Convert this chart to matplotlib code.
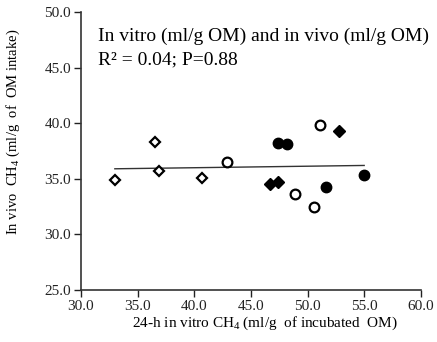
"""
Recreate the in vitro vs in vivo CH4 scatter with its flat regression line.
Output: out.png
"""
import matplotlib

matplotlib.use("Agg")
import matplotlib.pyplot as plt  # noqa: E402

plt.rcParams["font.family"] = ["Liberation Serif", "DejaVu Serif"]
plt.rcParams["mathtext.fontset"] = "custom"
plt.rcParams["mathtext.rm"] = "Liberation Serif"
plt.rcParams["mathtext.it"] = "Liberation Serif:italic"

# groups (x = in vitro, y = in vivo)
open_diamond_x = [33.0, 36.5, 36.9, 40.7]
open_diamond_y = [34.9, 38.3, 35.7, 35.1]
open_circle_x = [42.9, 51.1, 48.9, 50.6]
open_circle_y = [36.5, 39.8, 33.65, 32.5]
filled_circle_x = [47.4, 48.2, 51.6, 55.0]
filled_circle_y = [38.25, 38.15, 34.3, 35.3]
filled_diamond_x = [52.8, 46.7, 47.4]
filled_diamond_y = [39.3, 34.5, 34.7]

# regression line end points
trend_x = [33.0, 55.0]
trend_y = [35.9, 36.2]

x_ticks = [30, 35, 40, 45, 50, 55, 60]
y_ticks = [25, 30, 35, 40, 45, 50]


def main():
    fig = plt.figure(figsize=(4.37, 3.42), dpi=100)
    ax = fig.add_axes([0.185, 0.152, 0.778, 0.813])

    ax.plot(trend_x, trend_y, color="#333333", lw=1.0, zorder=1)

    ax.plot(open_diamond_x, open_diamond_y, "D", ms=5.5, mfc="white", mec="black", mew=1.6, ls="none")
    ax.plot(open_circle_x, open_circle_y, "o", ms=7, mfc="white", mec="black", mew=1.6, ls="none")
    ax.plot(filled_circle_x, filled_circle_y, "o", ms=7.5, color="black", ls="none")
    ax.plot(filled_diamond_x, filled_diamond_y, "D", ms=6, color="black", ls="none")

    ax.set_xlim(30, 60)
    ax.set_ylim(25, 50)
    ax.set_xticks(x_ticks)
    ax.set_yticks(y_ticks)
    ax.set_xticklabels([f"{t:.1f}" for t in x_ticks])
    ax.set_yticklabels([f"{t:.1f}" for t in y_ticks])
    ax.tick_params(direction="out", length=5, width=1, labelsize=11, colors="#222222", pad=2)

    for side in ("top", "right"):
        ax.spines[side].set_visible(False)
    for side in ("left", "bottom"):
        ax.spines[side].set_linewidth(1.2)
        ax.spines[side].set_color("#333333")

    ax.set_xlabel("24-h in vitro CH$_4$ (ml/g  of incubated  OM)", fontsize=11)
    ax.xaxis.set_label_coords(0.541, -0.09)
    ax.set_ylabel("In vivo  CH$_4$ (ml/g  of  OM intake)", fontsize=10.5)
    ax.yaxis.set_label_coords(-0.174, 0.57)

    ax.text(0.05, 0.914, "In vitro (ml/g OM) and in vivo (ml/g OM)", transform=ax.transAxes,
            fontsize=14, va="center", ha="left")
    ax.text(0.05, 0.827, "R\u00b2 = 0.04; P=0.88", transform=ax.transAxes,
            fontsize=14, va="center", ha="left")

    fig.savefig("out.png", dpi=100)
    plt.close(fig)


if __name__ == "__main__":
    main()
